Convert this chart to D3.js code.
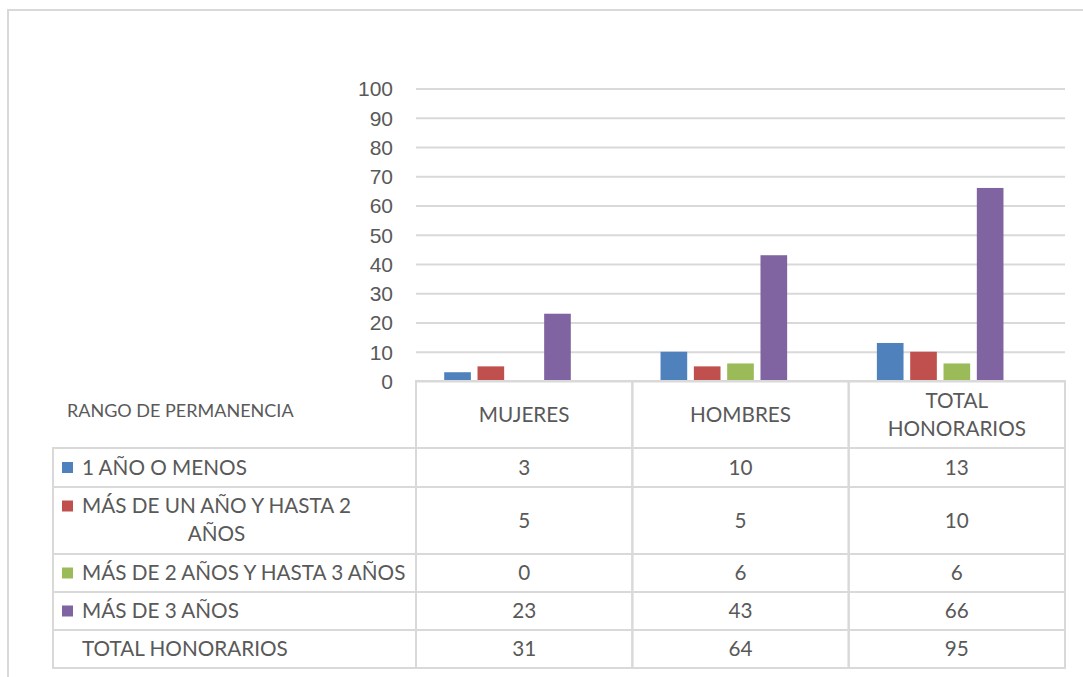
<!DOCTYPE html>
<html lang="es">
<head>
<meta charset="UTF-8">
<script src="https://d3js.org/d3.v7.min.js"></script>
<style>
  body { margin: 0; background: #fff; }
  svg { font-family: Lato, "Open Sans", sans-serif; }
  .grid line { stroke: #d9d9d9; stroke-width: 2; }
  .grid text { fill: #595959; font-size: 21px; }
  .cell { fill: none; stroke: #d9d9d9; stroke-width: 2; }
  .txt { fill: #595959; font-size: 20.7px; }
</style>
</head>
<body>
<svg width="1083" height="677"></svg>
<script>
// categorias (columnas de la tabla)
const categories = ["MUJERES", "HOMBRES", "TOTAL HONORARIOS"];
// series (filas de la tabla)
const seriesNames = ["1 AÑO O MENOS", "MÁS DE UN AÑO Y HASTA 2 AÑOS", "MÁS DE 2 AÑOS Y HASTA 3 AÑOS", "MÁS DE 3 AÑOS", "TOTAL HONORARIOS"];
const unAnoOMenos = [3, 10, 13];
const masDeUnAno = [5, 5, 10];
const masDeDosAnos = [0, 6, 6];
const masDeTresAnos = [23, 43, 66];
const totalHonorarios = [31, 64, 95];
const colors = ["#4f81bd", "#c0504d", "#9bbb59", "#8064a2", null];

const seriesValues = [unAnoOMenos, masDeUnAno, masDeDosAnos, masDeTresAnos, totalHonorarios];

const svg = d3.select("svg");

// marco exterior (solo se ve borde superior e izquierdo)
svg.append("rect")
  .attr("x", 8).attr("y", 10)
  .attr("width", 1200).attr("height", 800)
  .attr("fill", "none").attr("stroke", "#d9d9d9").attr("stroke-width", 2);

const plotLeft = 416, plotRight = 1065, tableLeft = 53;
const y = d3.scaleLinear().domain([0, 100]).range([381, 88.5]);
const x = d3.scaleBand().domain(categories).range([plotLeft, plotRight]);
const bw = x.bandwidth();
const xs = d3.scaleBand().domain(seriesNames)
  .range([bw * 0.115, bw * 0.885])
  .paddingInner(0.2).paddingOuter(0.1);

// lineas de cuadricula + etiquetas
svg.append("g")
  .attr("class", "grid")
  .attr("transform", `translate(${plotLeft},0)`)
  .call(d3.axisLeft(y).ticks(10).tickSize(-(plotRight - plotLeft)).tickPadding(23))
  .call(g => g.select(".domain").remove())
  .call(g => g.selectAll("text").attr("dy", "0.35em"));

// barras (la serie total no se dibuja)
const groups = svg.append("g").selectAll("g")
  .data(categories)
  .join("g")
  .attr("transform", d => `translate(${x(d)},0)`);

groups.selectAll("rect")
  .data((c, ci) => seriesNames.slice(0, 4).map((s, si) => ({ s, v: seriesValues[si][ci], color: colors[si] })))
  .join("rect")
  .attr("x", d => xs(d.s))
  .attr("width", xs.bandwidth())
  .attr("y", d => y(d.v))
  .attr("height", d => y(0) - y(d.v))
  .attr("fill", d => d.color);

// tabla de datos
const rowTops = [381, 448, 487, 554, 592, 630, 668];
const table = svg.append("g");

// celdas de cabecera
categories.forEach(c => {
  table.append("rect").attr("class", "cell")
    .attr("x", x(c)).attr("y", rowTops[0])
    .attr("width", bw).attr("height", rowTops[1] - rowTops[0]);
});
const headerWords = [["MUJERES"], ["HOMBRES"], ["TOTAL", "HONORARIOS"]];
categories.forEach((c, i) => {
  const lines = headerWords[i];
  const mid = (rowTops[0] + rowTops[1]) / 2;
  lines.forEach((l, li) => {
    table.append("text").attr("class", "txt")
      .attr("x", x(c) + bw / 2)
      .attr("y", mid + (li - (lines.length - 1) / 2) * 28)
      .attr("dy", "0.35em")
      .attr("text-anchor", "middle")
      .text(l);
  });
});

table.append("text").attr("class", "txt")
  .attr("x", 67).attr("y", 411).attr("dy", "0.35em")
  .style("font-size", "18px")
  .text("RANGO DE PERMANENCIA");

// filas
seriesNames.forEach((s, si) => {
  const top = rowTops[si + 1], bot = rowTops[si + 2], mid = (top + bot) / 2;
  table.append("rect").attr("class", "cell")
    .attr("x", tableLeft).attr("y", top)
    .attr("width", plotLeft - tableLeft).attr("height", bot - top);
  categories.forEach((c, ci) => {
    table.append("rect").attr("class", "cell")
      .attr("x", x(c)).attr("y", top)
      .attr("width", bw).attr("height", bot - top);
    table.append("text").attr("class", "txt")
      .attr("x", x(c) + bw / 2).attr("y", mid).attr("dy", "0.35em")
      .attr("text-anchor", "middle")
      .text(seriesValues[si][ci]);
  });
  if (colors[si]) {
    table.append("rect")
      .attr("x", 62).attr("y", (si === 1 ? top + 19 : mid) - 5.5)
      .attr("width", 11).attr("height", 11)
      .attr("fill", colors[si]);
  }
  if (si === 1) {
    const t1 = table.append("text").attr("class", "txt")
      .attr("x", 82).attr("y", top + 19).attr("dy", "0.35em")
      .text("MÁS DE UN AÑO Y HASTA 2");
    const w = t1.node().getComputedTextLength();
    table.append("text").attr("class", "txt")
      .attr("x", 82 + w / 2).attr("y", top + 47).attr("dy", "0.35em")
      .attr("text-anchor", "middle")
      .text("AÑOS");
  } else {
    table.append("text").attr("class", "txt")
      .attr("x", 82).attr("y", mid).attr("dy", "0.35em")
      .text(s);
  }
});
</script>
</body>
</html>
